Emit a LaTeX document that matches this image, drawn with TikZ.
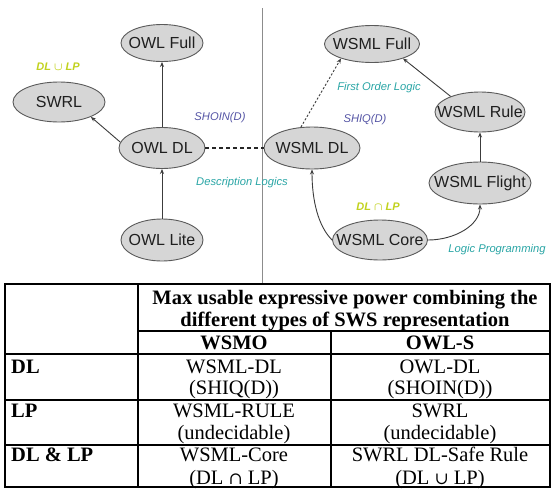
\documentclass[tikz,border=0pt]{standalone}
\usepackage{fontspec}
\setmainfont{Liberation Serif}
\setsansfont{Liberation Sans}
\newfontfamily\setopfont{DejaVu Serif}
\usetikzlibrary{shapes.geometric,arrows.meta}

\definecolor{ovalfill}{HTML}{D6D6D6}
\definecolor{ovaldraw}{HTML}{5A5A5A}
\definecolor{edgegray}{HTML}{3C3C3C}
\definecolor{limegreen}{HTML}{C2D21E}
\definecolor{slateblue}{HTML}{5656A6}
\definecolor{tealtext}{HTML}{2AA6A6}

\tikzset{
  oval/.style={ellipse, draw=ovaldraw, fill=ovalfill, line width=0.9pt,
    inner xsep=-15pt, inner ysep=0pt, text=black!88,
    font=\sffamily\fontsize{16}{18}\selectfont},
  arr/.style={draw=edgegray, line width=0.9pt, -{Stealth[length=5pt,width=4pt]}},
  finedash/.style={dash pattern=on 2.2pt off 1.8pt},
  bolddash/.style={draw=black!85, line width=1.1pt, dash pattern=on 4pt off 3pt},
  sepline/.style={draw=black!45, line width=0.9pt},
  tag/.style={inner sep=0pt, font=\sffamily\itshape\fontsize{11.2}{13}\selectfont},
  settag/.style={inner sep=0pt, font=\sffamily\bfseries\itshape\boldmath\fontsize{11}{13}\selectfont, text=limegreen},
  grid/.style={draw=black, line width=1.1pt},
  head/.style={inner sep=0pt, anchor=base, font=\bfseries\fontsize{20.5}{22}\selectfont},
  rowhead/.style={inner sep=0pt, anchor=base west, font=\bfseries\fontsize{20.5}{22}\selectfont},
  cell/.style={inner sep=0pt, anchor=base, font=\fontsize{20.5}{22}\selectfont}
}

\begin{document}
\begin{tikzpicture}[x=1pt, y=-1pt]
  \useasboundingbox (0,0) rectangle (552,488);
  \fill[white] (0,0) rectangle (552,488);

  % separator between the OWL and WSML families
  \coordinate (septop) at (262,8);
  \coordinate (sepbot) at (262,284);
  \draw[sepline] (septop) -- (sepbot);

  % OWL family
  \node[oval, minimum width=82, minimum height=37] (owlfull) at (162,43) {OWL Full};
  \node[oval, minimum width=92, minimum height=40] (swrl) at (59,102) {SWRL};
  \node[oval, minimum width=86, minimum height=41] (owldl) at (162,148) {OWL DL};
  \node[oval, minimum width=82, minimum height=42] (owllite) at (162,240) {OWL Lite};

  % WSML family
  \node[oval, minimum width=96, minimum height=42] (wsmldl) at (312,148) {WSML DL};
  \node[oval, minimum width=95, minimum height=37] (wsmlfull) at (372,44) {WSML Full};
  \node[oval, minimum width=90, minimum height=40] (wsmlrule) at (480,112) {WSML Rule};
  \node[oval, minimum width=102, minimum height=42] (wsmlflight) at (480,183) {WSML Flight};
  \node[oval, minimum width=95, minimum height=40] (wsmlcore) at (380,240) {WSML Core};

  % connectors
  \draw[arr] (owldl) -- (owlfull);
  \draw[arr] (owllite) -- (owldl);
  \draw[arr] (owldl.172) -- (swrl.-25);
  \draw[bolddash] (owldl.east) -- (wsmldl.west);
  \draw[arr, finedash] (wsmldl.118) -- (wsmlfull.205);
  \draw[arr] (wsmlrule.152) -- (wsmlfull.-25);
  \draw[arr] (wsmlflight) -- (wsmlrule);
  \draw[arr] (wsmlcore.west) .. controls (318,226) and (312,200) .. (wsmldl.south);
  \draw[arr] (wsmlcore.east) .. controls (455,240) and (480,225) .. (wsmlflight.south);

  % annotations
  \node[settag] (swrlset) at (58,67) {DL $\cup$ LP};
  \node[settag] (coreset) at (378,207) {DL $\cap$ LP};
  \node[tag, text=slateblue] (shoin) at (220,118) {SHOIN(D)};
  \node[tag, text=slateblue] (shiq) at (365,120) {SHIQ(D)};
  \node[tag, text=tealtext] (desclog) at (242,183) {Description Logics};
  \node[tag, text=tealtext] (folog) at (379,88) {First Order Logic};
  \node[tag, text=tealtext] (lplog) at (497,250) {Logic Programming};

  % comparison table: rules
  \draw[grid] (5,284) rectangle (550,487);
  \draw[grid] (138,284) -- (138,487);
  \draw[grid] (331,331) -- (331,487);
  \draw[grid] (138,331) -- (550,331);
  \draw[grid] (5,354) -- (550,354);
  \draw[grid] (5,400) -- (550,400);
  \draw[grid] (5,445) -- (550,445);

  % comparison table: header
  \node[head] (maxpowera) at (345,304) {Max usable expressive power combining the};
  \node[head] (maxpowerb) at (345,326) {different types of SWS representation};
  \node[head] (wsmo) at (234,349) {WSMO};
  \node[head] (owls) at (440,349) {OWL-S};

  % comparison table: row labels
  \node[rowhead] (rowdl) at (11,373) {DL};
  \node[rowhead] (rowlp) at (11,417) {LP};
  \node[rowhead] (rowdllp) at (11,461) {DL \& LP};

  % comparison table: cells
  \node[cell] (wsmodla) at (234,373) {WSML-DL};
  \node[cell] (wsmodlb) at (234,394) {(SHIQ(D))};
  \node[cell] (owlsdla) at (440,373) {OWL-DL};
  \node[cell] (owlsdlb) at (440,394) {(SHOIN(D))};
  \node[cell] (wsmolpa) at (234,417) {WSML-RULE};
  \node[cell] (wsmolpb) at (234,439) {(undecidable)};
  \node[cell] (owlslpa) at (440,417) {SWRL};
  \node[cell] (owlslpb) at (440,439) {(undecidable)};
  \node[cell] (wsmodllpa) at (234,461) {WSML-Core};
  \node[cell] (wsmodllpb) at (234,484) {(DL {\setopfont\fontsize{17}{20}\selectfont ∩} LP)};
  \node[cell] (owlsdllpa) at (440,461) {SWRL DL-Safe Rule};
  \node[cell] (owlsdllpb) at (440,484) {(DL {\setopfont\fontsize{17}{20}\selectfont ∪} LP)};
\end{tikzpicture}
\end{document}
